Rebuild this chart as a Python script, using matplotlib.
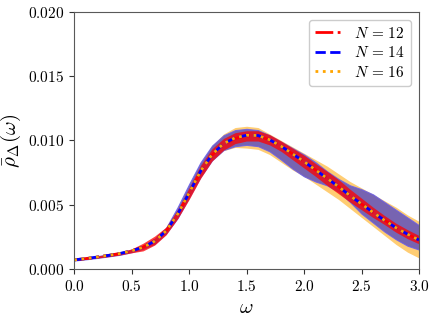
import matplotlib
matplotlib.use("Agg")
import matplotlib.pyplot as plt
import numpy as np

plt.rcParams['font.family'] = 'serif'
plt.rcParams['font.serif'] = ['cmr10', 'DejaVu Serif']
plt.rcParams['mathtext.fontset'] = 'cm'
plt.rcParams['axes.formatter.use_mathtext'] = True

omega = np.round(np.arange(0, 3.01, 0.1), 2)

# mean curves (units of 1e-3)
mean12 = [0.70, 0.80, 0.92, 1.05, 1.20, 1.40, 1.70, 2.20, 2.95, 4.25, 5.85, 7.55, 8.85, 9.70, 10.15, 10.35,
          10.35, 10.05, 9.55, 8.95, 8.35, 7.70, 7.05, 6.40, 5.70, 5.05, 4.40, 3.80, 3.20, 2.70, 2.25]
mean14 = [0.70, 0.80, 0.92, 1.05, 1.20, 1.40, 1.68, 2.15, 2.95, 4.25, 5.90, 7.60, 8.90, 9.75, 10.20, 10.40,
          10.38, 10.05, 9.55, 8.95, 8.35, 7.70, 7.05, 6.40, 5.70, 5.05, 4.40, 3.78, 3.20, 2.70, 2.25]
mean16 = [0.70, 0.80, 0.92, 1.05, 1.20, 1.40, 1.68, 2.15, 2.95, 4.25, 5.90, 7.60, 8.90, 9.75, 10.20, 10.40,
          10.38, 10.05, 9.55, 8.95, 8.35, 7.70, 7.05, 6.40, 5.70, 5.05, 4.40, 3.78, 3.20, 2.70, 2.25]

# band edges (units of 1e-3)
lo12 = [0.65, 0.74, 0.84, 0.95, 1.08, 1.25, 1.40, 1.85, 2.65, 3.90, 5.40, 7.05, 8.40, 9.25, 9.75, 9.95,
        9.95, 9.65, 9.15, 8.50, 7.85, 7.20, 6.50, 5.85, 5.20, 4.60, 4.00, 3.45, 2.85, 2.35, 1.95]
hi12 = [0.75, 0.86, 1.00, 1.15, 1.32, 1.55, 2.00, 2.55, 3.25, 4.60, 6.30, 8.05, 9.35, 10.15, 10.60, 10.75,
        10.75, 10.45, 9.95, 9.40, 8.85, 8.20, 7.60, 6.95, 6.20, 5.50, 4.80, 4.15, 3.55, 3.05, 2.60]
lo14 = [0.65, 0.74, 0.85, 0.97, 1.10, 1.30, 1.55, 1.95, 2.75, 3.95, 5.55, 7.15, 8.45, 9.25, 9.55, 9.65,
        9.55, 9.15, 8.50, 7.80, 7.20, 6.80, 6.50, 6.00, 5.20, 4.30, 3.60, 2.90, 2.30, 1.80, 1.50]
hi14 = [0.75, 0.86, 0.99, 1.13, 1.30, 1.50, 1.80, 2.35, 3.20, 4.80, 6.60, 8.30, 9.60, 10.40, 10.80, 10.90,
        10.80, 10.40, 9.90, 9.40, 8.90, 8.30, 7.60, 7.00, 6.50, 6.20, 5.80, 5.20, 4.60, 4.00, 3.40]
lo16 = [0.65, 0.74, 0.85, 0.97, 1.10, 1.30, 1.55, 2.00, 2.80, 4.00, 5.60, 7.20, 8.45, 9.20, 9.45, 9.40,
        9.30, 8.90, 8.30, 7.70, 7.20, 6.60, 6.00, 5.40, 4.70, 4.00, 3.30, 2.60, 1.90, 1.30, 0.85]
hi16 = [0.75, 0.86, 0.99, 1.13, 1.30, 1.50, 1.80, 2.30, 3.15, 4.70, 6.45, 8.20, 9.60, 10.50, 11.00, 11.10,
        11.00, 10.50, 10.00, 9.50, 9.00, 8.50, 8.00, 7.40, 6.80, 6.30, 5.80, 5.30, 4.80, 4.20, 3.70]

labels = [r'$N\,=\,12$', r'$N\,=\,14$', r'$N\,=\,16$']
xticks = [0.0, 0.5, 1.0, 1.5, 2.0, 2.5, 3.0]
yticks = [0.000, 0.005, 0.010, 0.015, 0.020]

s = 1e-3
fig = plt.figure(figsize=(4.36, 3.22), dpi=100)
ax = fig.add_axes([0.170, 0.165, 0.791, 0.798])

ax.fill_between(omega, np.array(lo16) * s, np.array(hi16) * s, color='orange', alpha=0.55, lw=0)
ax.fill_between(omega, np.array(lo14) * s, np.array(hi14) * s, facecolor='#5f52bd', alpha=0.85, lw=0.8,
                edgecolor='#6a5ee8')
ax.fill_between(omega, np.array(lo12) * s, np.array(hi12) * s, color='red', alpha=0.75, lw=0)

ax.plot(omega, np.array(mean12) * s, color='red', ls='-.', lw=2, label=labels[0])
ax.plot(omega, np.array(mean14) * s, color='blue', ls='--', lw=2, label=labels[1])
ax.plot(omega, np.array(mean16) * s, color='orange', ls=':', lw=2, label=labels[2])

ax.set_xlim(0, 3.0)
ax.set_ylim(0, 0.020)
ax.set_xticks(xticks)
ax.set_yticks(yticks)
ax.set_xticklabels([f'${v:.1f}$' for v in xticks], fontsize=11)
ax.set_yticklabels([f'${v:.3f}$' for v in yticks], fontsize=11)
ax.set_xlabel(r'$\omega$', fontsize=15)
ax.set_ylabel(r'$\bar{\rho}_\Delta(\omega)$', fontsize=15)
for sp in ax.spines.values():
    sp.set_color('0.35')
ax.tick_params(colors='0.2', labelcolor='black')
leg = ax.legend(loc='upper right', fontsize=11, handlelength=1.8, labelspacing=0.3,
                framealpha=1, edgecolor='0.8')

fig.savefig('out.png', dpi=100)
